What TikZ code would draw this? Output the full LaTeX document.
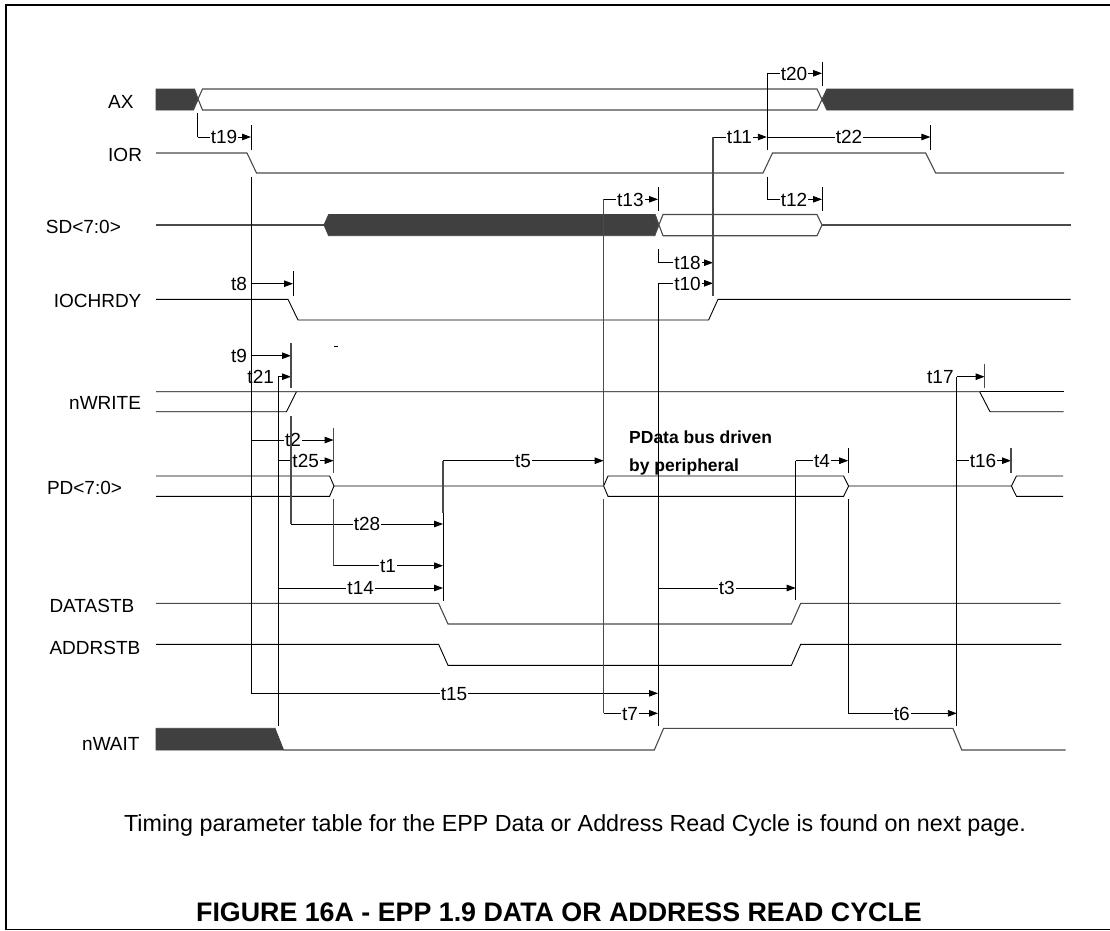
\documentclass[tikz,border=0pt]{standalone}
\usepackage{fontspec}
\setmainfont{Liberation Sans}
\usetikzlibrary{arrows.meta}
\definecolor{busdark}{HTML}{404040}
\definecolor{lineg}{HTML}{4A4A4A}
\tikzset{
  sig/.style={black,line width=0.9pt,line join=miter},
  sigg/.style={lineg,line width=1.1pt,line join=miter},
  dark/.style={fill=busdark,draw=busdark,line width=0.8pt},
  vert/.style={black,line width=0.9pt},
  vertg/.style={lineg,line width=1.1pt},
  dimline/.style={black,line width=0.9pt,-{Triangle[length=9pt,width=6.5pt]}},
  tlab/.style={font=\fontsize{19}{19}\selectfont,inner ysep=0pt,inner xsep=1pt,text height=13.5pt,text depth=0pt,fill=white,anchor=center},
  siglab/.style={font=\fontsize{19}{19}\selectfont,inner sep=0pt,anchor=base west},
  note/.style={font=\fontsize{17.5}{17.5}\selectfont\bfseries,inner sep=0pt,anchor=base west},
}
\newcommand{\hdim}[6]{\draw[dimline] (#2,#3) -- (#4,#3); \node[tlab] (#1) at (#5,#3) {#6};}
\begin{document}
\begin{tikzpicture}[x=1pt,y=-1pt]
\useasboundingbox (0,0) rectangle (1110,930);
% frame
\draw[black,line width=2pt] (6.4,930) -- (6.4,5) -- (1110,5);
\draw[black,line width=1pt] (6.4,929) -- (1110,929);
% dimension lines with labels
\hdim{t19}{197.5}{137}{251}{224}{t19}
\hdim{t20}{767}{73.3}{822}{794}{t20}
\hdim{t11}{713}{137}{766.8}{739.3}{t11}
\hdim{t22}{767}{137}{930.4}{849}{t22}
\hdim{t12}{767}{199.3}{822}{794}{t12}
\hdim{t13}{603.6}{199.3}{658}{630.4}{t13}
\hdim{t18}{658}{262.7}{713}{687.5}{t18}
\hdim{t10}{658}{283.3}{713}{687.5}{t10}
\hdim{t8}{251}{283.7}{293}{239}{t8}
\hdim{t9}{251}{355.7}{291}{239}{t9}
\hdim{t21}{278}{376.7}{291}{260.7}{t21}
\hdim{t17}{956.8}{376.7}{984.6}{940.4}{t17}
\hdim{t2}{251}{440}{333.6}{293}{t2}
\hdim{t25}{278}{460.7}{333.6}{305.7}{t25}
\hdim{t5}{443}{460.7}{603.6}{523}{t5}
\hdim{t4}{795.7}{460.7}{848.2}{822}{t4}
\hdim{t16}{956.8}{460.7}{1011}{983}{t16}
\hdim{t28}{291}{524}{443}{367}{t28}
\hdim{t1}{333.6}{565.7}{443}{388}{t1}
\hdim{t14}{278}{588}{443}{360.7}{t14}
\hdim{t3}{658}{588}{795.7}{726.8}{t3}
\hdim{t15}{251}{693.3}{658}{454}{t15}
\hdim{t7}{603.6}{713.3}{658}{630}{t7}
\hdim{t6}{848.2}{713.3}{956.8}{901.8}{t6}
% signal labels
\node[siglab] (lAX) at (108,108.2) {AX};
\node[siglab] (lIOR) at (108,161.5) {IOR};
\node[siglab] (lSD) at (45.7,233.5) {SD<7:0>};
\node[siglab] (lIOCHRDY) at (53.6,307.5) {IOCHRDY};
\node[siglab] (lnWRITE) at (69,409.2) {nWRITE};
\node[siglab] (lPD) at (46.8,494.2) {PD<7:0>};
\node[siglab] (lDATASTB) at (49.3,612.5) {DATASTB};
\node[siglab] (lADDRSTB) at (49.3,654.2) {ADDRSTB};
\node[siglab] (lnWAIT) at (82,750.5) {nWAIT};
% notes
\node[note] (pd1) at (629,443.3) {PData bus driven};
\node[note] (pd2) at (629,471) {by peripheral};
\node[inner sep=0pt,anchor=base,font=\fontsize{23.3}{23.3}\selectfont] (tnote) at (575,831) {Timing parameter table for the EPP Data or Address Read Cycle is found on next page.};
\node[inner sep=0pt,anchor=base,font=\fontsize{26.8}{26.8}\selectfont\bfseries] (title) at (559,921.7) {FIGURE 16A - EPP 1.9 DATA OR ADDRESS READ CYCLE};
% AX
\draw[dark] (156,89) -- (194.5,89) -- (198,99.5) -- (193.5,110) -- (156,110) -- cycle;
\draw[dark] (827,89) -- (1073,89) -- (1073,110) -- (827,110) -- (822.5,99.5) -- cycle;
\draw[sigg] (194,89) -- (202.5,110) -- (817,110) -- (827,89);
\draw[sigg] (193,110) -- (202.5,89) -- (817,89) -- (827,110);
% IOR
\draw[sigg] (156,153) -- (247,153) -- (256.5,173) -- (763,173) -- (772.5,153) -- (925.7,153) -- (935.7,173) -- (1064,173);
% SD
\draw[sigg] (156,225) -- (324,225);
\draw[dark] (324,225) -- (328.6,214.5) -- (655,214.5) -- (658.5,225) -- (654.6,235.7) -- (328.6,235.7) -- cycle;
\draw[sigg] (655,214.5) -- (663,235.7) -- (817,235.7) -- (822,225) -- (817,214.5) -- (663,214.5) -- (654.6,235.7);
\draw[sigg] (822,225) -- (1070.7,225);
% IOCHRDY
\draw[sig] (156,299.3) -- (288,299.3) -- (298,320) -- (708.6,320) -- (718,299.3) -- (1070.7,299.3);
% nWRITE
\draw[sig] (156,391.7) -- (979.6,391.7) -- (990,411.7) -- (1063.6,411.7);
\draw[sig] (979.6,391.7) -- (1063.6,391.7);
\draw[sig] (156,411.7) -- (286.4,411.7) -- (296.4,391.7);
% PD
\draw[sig] (156,476) -- (329.6,476) -- (334,486) -- (329.6,496.3) -- (156,496.3);
\draw[sig] (334,486) -- (603.6,486) -- (608,476) -- (843.6,476) -- (848.6,486) -- (843.6,496.3) -- (608,496.3) -- (603.6,486);
\draw[sig] (848.6,486) -- (1011.4,486) -- (1016.4,476) -- (1063,476);
\draw[sig] (1011.4,486) -- (1016.4,496.3) -- (1063,496.3);
% DATASTB
\draw[sigg] (156,603.3) -- (438.6,603.3) -- (448,624) -- (791.4,624) -- (800.7,603.3) -- (1060.7,603.3);
% ADDRSTB
\draw[sig] (156,644.3) -- (438.6,644.3) -- (448,665.3) -- (791.4,665.3) -- (800.7,644.3) -- (1061.4,644.3);
% nWAIT
\draw[dark] (156,728.3) -- (275,728.3) -- (283.6,750) -- (156,750) -- cycle;
\draw[sigg] (283.6,750) -- (654.3,750) -- (663.6,728.3) -- (952.9,728.3) -- (961.8,750) -- (1065.7,750);
% stray mark
\draw[black,line width=1pt] (334,346.7) -- (337.5,346.7);
% verticals and ticks
\draw[vert] (197.5,113) -- (197.5,137);
\draw[vert] (251,125) -- (251,150);
\draw[vert] (251,176.7) -- (251,693.3);
\draw[vert] (293,271) -- (293,295.7);
\draw[vertg] (291,343.3) -- (291,388.3);
\draw[vertg] (291,416) -- (291,524);
\draw[vert] (278,376.7) -- (278,726);
\draw[vertg] (333.6,427.7) -- (333.6,472.7);
\draw[vertg] (333.6,499.3) -- (333.6,565.7);
\draw[vertg] (443,460.7) -- (443,512.7);
\draw[vert] (443,512.7) -- (443,600.7);
\draw[vertg] (603.6,199.3) -- (603.6,486);
\draw[vertg] (603.6,499.3) -- (603.6,713.3);
\draw[vert] (658,187) -- (658,211);
\draw[vert] (658,249.3) -- (658,262.7);
\draw[vert] (658,283.3) -- (658,726);
\draw[vertg] (713,137) -- (713,295.7);
\draw[vert] (767,73.3) -- (767,150);
\draw[vert] (767,176.7) -- (767,199.3);
\draw[vert] (822,61.7) -- (822,85.7);
\draw[vert] (822,187) -- (822,211);
\draw[vert] (930.4,125) -- (930.4,150);
\draw[vert] (795.7,460.7) -- (795.7,600);
\draw[vert] (848.2,448) -- (848.2,473);
\draw[vert] (848.2,499.3) -- (848.2,713.3);
\draw[vert] (956.8,376.7) -- (956.8,726);
\draw[vertg] (984.6,364) -- (984.6,388.3);
\draw[vertg] (1011,448) -- (1011,473);
\end{tikzpicture}
\end{document}
